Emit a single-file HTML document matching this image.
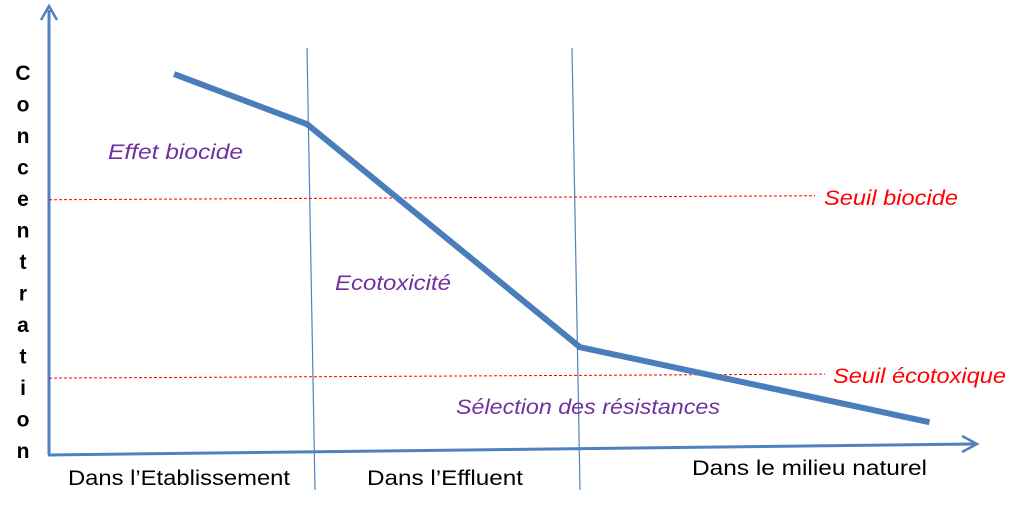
<!DOCTYPE html>
<html><head><meta charset="utf-8">
<style>
html,body{margin:0;padding:0;background:#fff;}
svg{display:block;}
text{font-family:"Liberation Sans",sans-serif;}
</style></head>
<body>
<svg id="chart" width="1024" height="510" viewBox="0 0 1024 510">
<g id="axes"></g>
<g id="marks"></g>
<g id="labels"></g>
</svg>
<script>
var stages = ["Dans l\u2019Etablissement","Dans l\u2019Effluent","Dans le milieu naturel"];
var stagePos = [0.513, 1, 2.0, 3.28];
var concValues = [92.9, 80.7, 26.3, 8];
var thresholdNames = ["Seuil biocide","Seuil écotoxique"];
var thresholdValues = [62.5, 19];
var zoneNames = ["Effet biocide","Ecotoxicité","Sélection des résistances"];
var axisLetters = "Concentration".split("");

var NS="http://www.w3.org/2000/svg";
function x(s){return 34+s*273;}
function y(v){return 455-v*4.1;}
function mk(tag,attrs,parent,txt){var e=document.createElementNS(NS,tag);for(var k in attrs)e.setAttribute(k,attrs[k]);if(txt!==undefined)e.textContent=txt;parent.appendChild(e);return e;}
var axes=document.getElementById('axes'),marks=document.getElementById('marks'),labels=document.getElementById('labels');

var ya=mk('path',{d:'M49,455 L49,10',stroke:'#4f81bd','stroke-width':3,fill:'none'},axes);


var yh=mk('path',{d:'M41,20 L49,6 L57,20',stroke:'#4f81bd','stroke-width':2.5,fill:'none'},axes);


var xa=mk('path',{d:'M48,455 L974,444',stroke:'#4f81bd','stroke-width':3,fill:'none'},axes);


var xh=mk('path',{d:'M962,436 L977,444 L962,452',stroke:'#4f81bd','stroke-width':2.5,fill:'none'},axes);


var divTop=[307,572];
divTop.forEach(function(t,i){
  var l=mk('line',{x1:t,y1:48,x2:t+8,y2:490,stroke:'#4f81bd','stroke-width':1.2},axes);
  
  
});
var thrEnd=[815,825], thrLab=[824,833], thrW=[134,173];
thresholdValues.forEach(function(v,i){
  var l=mk('line',{x1:49,y1:y(v)+1,x2:thrEnd[i],y2:y(v)-3,stroke:'#ff0000','stroke-width':1,'stroke-dasharray':'3,2'},marks);
  
  
  var t=mk('text',{x:thrLab[i],y:y(v)+6,fill:'#ff0000','font-size':21,'font-style':'italic',textLength:thrW[i],lengthAdjust:'spacingAndGlyphs'},labels,thresholdNames[i]);
  
  
});
var d=stagePos.map(function(s,i){return (i?'L':'M')+x(s)+','+y(concValues[i]);}).join(' ');
var pl=mk('path',{d:d,stroke:'#4a7ebb','stroke-width':6,fill:'none','stroke-linejoin':'miter'},marks);


var zpos=[[108,159],[335,290],[456,414]], zw=[135,116,264];
zoneNames.forEach(function(n,i){
  var t=mk('text',{x:zpos[i][0],y:zpos[i][1],fill:'#7030a0','font-size':21,'font-style':'italic',textLength:zw[i],lengthAdjust:'spacingAndGlyphs'},labels,n);
  
  
});
var spos=[[68,485],[367,485],[692,475]], sw=[222,156,235];
stages.forEach(function(n,i){
  var t=mk('text',{x:spos[i][0],y:spos[i][1],fill:'#000','font-size':21,textLength:sw[i],lengthAdjust:'spacingAndGlyphs'},labels,n);
  
  
});
axisLetters.forEach(function(c,i){
  var t=mk('text',{x:23,y:80+i*31.5,'text-anchor':'middle','font-size':21,'font-weight':'bold',fill:'#000'},labels,c);
  
  
});
</script>
</body></html>
